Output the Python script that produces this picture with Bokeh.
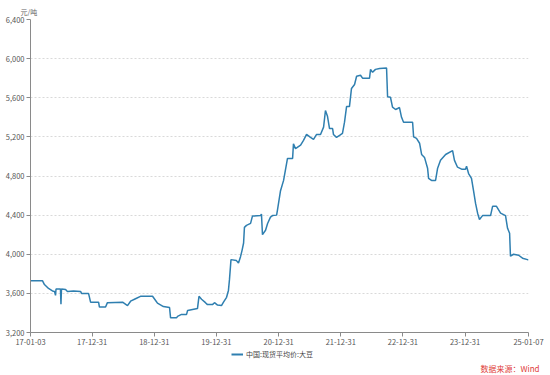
import pandas as pd
from bokeh.plotting import figure
from bokeh.layouts import column
from bokeh.models import (Range1d, FixedTicker, NumeralTickFormatter, DatetimeTickFormatter,
                          Legend, LegendItem, Title)
from bokeh.embed import file_html
from bokeh.resources import INLINE

dates = [
    "2017-01-03", "2017-03-14", "2017-03-26", "2017-04-19", "2017-05-12", "2017-05-24",
    "2017-05-30", "2017-06-02", "2017-06-28", "2017-07-01", "2017-07-04", "2017-07-28",
    "2017-08-08", "2017-09-13", "2017-10-24", "2017-10-30", "2017-12-10", "2017-12-22",
    "2018-02-07", "2018-02-12", "2018-03-20", "2018-03-31", "2018-06-28", "2018-07-27",
    "2018-08-14", "2018-09-12", "2018-10-11", "2018-12-21", "2019-01-07", "2019-01-19",
    "2019-02-23", "2019-03-31", "2019-04-06", "2019-05-11", "2019-05-17", "2019-06-09",
    "2019-07-09", "2019-07-15", "2019-09-11", "2019-09-20", "2019-10-05", "2019-10-28",
    "2019-11-09", "2019-12-08", "2019-12-20", "2020-01-07", "2020-01-30", "2020-02-11",
    "2020-02-29", "2020-03-11", "2020-03-17", "2020-03-26", "2020-04-27", "2020-05-09",
    "2020-05-21", "2020-05-30", "2020-06-08", "2020-06-13", "2020-06-25", "2020-07-19",
    "2020-07-30", "2020-09-15", "2020-09-21", "2020-09-27", "2020-10-15", "2020-10-27",
    "2020-11-13", "2020-11-25", "2020-12-19", "2020-12-24", "2021-01-11", "2021-01-29",
    "2021-02-21", "2021-03-23", "2021-03-28", "2021-04-09", "2021-05-09", "2021-05-26",
    "2021-06-13", "2021-07-06", "2021-07-24", "2021-08-11", "2021-09-03", "2021-09-21",
    "2021-10-02", "2021-10-14", "2021-10-26", "2021-11-13", "2021-11-18", "2021-12-06",
    "2021-12-24", "2022-01-10", "2022-01-22", "2022-02-03", "2022-02-20", "2022-03-04",
    "2022-03-22", "2022-04-03", "2022-04-26", "2022-05-08", "2022-06-18", "2022-06-24",
    "2022-07-06", "2022-07-23", "2022-08-16", "2022-09-26", "2022-10-02", "2022-10-19",
    "2022-10-31", "2022-11-18", "2022-11-30", "2022-12-11", "2022-12-23", "2023-01-04",
    "2023-02-26", "2023-03-04", "2023-03-21", "2023-04-08", "2023-04-20", "2023-05-07",
    "2023-05-25", "2023-05-31", "2023-06-17", "2023-07-11", "2023-07-23", "2023-08-09",
    "2023-09-08", "2023-10-19", "2023-10-30", "2023-11-17", "2023-12-11", "2024-01-03",
    "2024-01-09", "2024-01-21", "2024-02-07", "2024-02-19", "2024-03-02", "2024-03-14",
    "2024-03-25", "2024-04-12", "2024-05-29", "2024-06-10", "2024-07-03", "2024-07-27",
    "2024-08-25", "2024-09-06", "2024-09-18", "2024-09-23", "2024-10-11", "2024-11-10",
    "2024-12-03", "2025-01-01", "2025-01-07",
]
prices = [
    3730, 3730, 3690, 3650, 3625, 3620,
    3580, 3645, 3645, 3490, 3645, 3640,
    3620, 3625, 3620, 3600, 3600, 3510,
    3510, 3460, 3460, 3505, 3510, 3475,
    3520, 3545, 3570, 3570, 3530, 3500,
    3465, 3455, 3350, 3350, 3365, 3385,
    3385, 3425, 3445, 3570, 3540, 3505,
    3485, 3485, 3505, 3480, 3475, 3510,
    3560, 3630, 3740, 3945, 3935, 3910,
    3975, 4040, 4115, 4275, 4295, 4315,
    4390, 4395, 4410, 4200, 4245, 4315,
    4380, 4395, 4400, 4450, 4650, 4755,
    4980, 4980, 5130, 5080, 5115, 5165,
    5225, 5195, 5175, 5225, 5225, 5300,
    5470, 5410, 5285, 5285, 5225, 5195,
    5215, 5235, 5350, 5510, 5510, 5695,
    5735, 5820, 5830, 5800, 5800, 5890,
    5860, 5890, 5900, 5905, 5610, 5605,
    5505, 5480, 5490, 5500, 5400, 5350,
    5350, 5200, 5185, 5135, 5020, 4990,
    4880, 4775, 4755, 4755, 4880, 4960,
    5020, 5060, 4960, 4890, 4870, 4870,
    4900, 4825, 4775, 4650, 4520, 4420,
    4355, 4395, 4395, 4490, 4490, 4420,
    4395, 4265, 4215, 3980, 4000, 3990,
    3960, 3945, 3945,
]
x_tick_dates = ["2017-01-03", "2017-12-31", "2018-12-31", "2019-12-31", "2020-12-31",
                "2021-12-31", "2022-12-31", "2023-12-31", "2025-01-07"]
y_ticks = [3200, 3600, 4000, 4400, 4800, 5200, 5600, 6000, 6400]
series_name = "中国:现货平均价:大豆"
unit_label = "元/吨"
source_label = "数据来源：Wind"

FONT = "Noto Sans CJK SC"
LINE_COLOR = "#2f7fb0"
x = pd.to_datetime(dates)
xt = [pd.Timestamp(d).value // 10**6 for d in x_tick_dates]

W = 550
H1, H2 = 348, 27
BL, BR, BT, BB = 30, 22, 19, 16

p = figure(width=W, height=H1, x_axis_type="datetime", output_backend="svg",
           toolbar_location=None,
           x_range=Range1d(pd.Timestamp(x_tick_dates[0]), pd.Timestamp(x_tick_dates[-1])),
           y_range=Range1d(y_ticks[0], y_ticks[-1]),
           min_border_left=BL, min_border_right=BR, min_border_top=BT, min_border_bottom=BB)
p.outline_line_color = None
p.background_fill_color = "white"
p.border_fill_color = "white"

p.line(x, prices, line_color=LINE_COLOR, line_width=1.5)

p.xgrid.grid_line_color = None
p.ygrid.grid_line_color = "#d9d9d9"
p.ygrid.grid_line_dash = "2 2"
p.ygrid.grid_line_width = 1

p.xaxis.ticker = FixedTicker(ticks=xt)
fmt = "%y-%m-%d"
p.xaxis.formatter = DatetimeTickFormatter(
    microseconds=fmt, milliseconds=fmt, seconds=fmt, minsec=fmt, minutes=fmt,
    hourmin=fmt, hours=fmt, days=fmt, months=fmt, years=fmt, context=None)
p.yaxis.ticker = FixedTicker(ticks=y_ticks)
p.yaxis.formatter = NumeralTickFormatter(format="0,0")

for ax in (p.xaxis, p.yaxis):
    ax.axis_line_color = "#8a8a8a"
    ax.major_tick_line_color = "#8a8a8a"
    ax.minor_tick_line_color = None
    ax.major_tick_in = 0
    ax.major_tick_out = 4
    ax.major_label_text_font = FONT
    ax.major_label_text_font_size = "7.5px"
    ax.major_label_text_color = "#555555"
    ax.major_label_standoff = 2

p.add_layout(Title(text=unit_label, align="left", offset=-10, standoff=6,
                   text_color="#666666", text_font=FONT, text_font_size="7px",
                   text_font_style="normal"), "above")

# bottom strip: legend and source note
q = figure(width=W, height=H2, output_backend="svg", toolbar_location=None,
           x_range=Range1d(0, 1), y_range=Range1d(0, 1),
           min_border_left=0, min_border_right=0, min_border_top=0, min_border_bottom=0)
q.axis.visible = False
q.grid.visible = False
q.outline_line_color = None
q.background_fill_color = "white"
q.border_fill_color = "white"
r2 = q.line(x=[-5, -4], y=[-5, -5], line_color=LINE_COLOR, line_width=2)

legend = Legend(items=[LegendItem(label=series_name, renderers=[r2])],
                location=(201, 0), orientation="horizontal",
                label_text_font=FONT, label_text_font_size="7px",
                label_text_color="#444444", glyph_width=12, glyph_height=8,
                label_height=8, label_standoff=3, padding=0, margin=0, spacing=0,
                border_line_color=None, background_fill_alpha=0)
q.add_layout(legend, "center")

q.add_layout(Title(text=source_label, align="right", offset=-11, standoff=3,
                   text_color="#e0403a", text_font=FONT, text_font_size="8px",
                   text_font_style="normal"), "below")

open("out.html", "w").write(file_html(column(p, q, spacing=0), INLINE))
